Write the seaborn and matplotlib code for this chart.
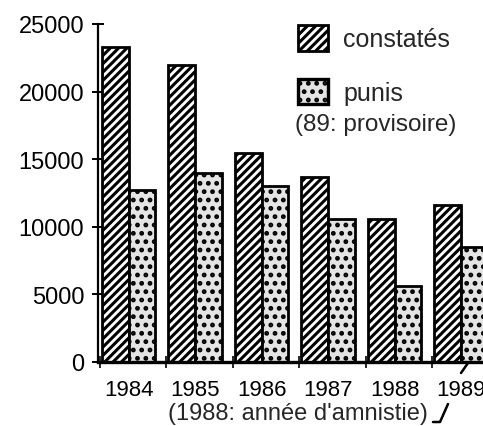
import matplotlib
matplotlib.use('Agg')
import matplotlib.pyplot as plt
import seaborn as sns
import pandas as pd
from matplotlib.patches import Patch
from matplotlib.lines import Line2D

# values
years = ['1984', '1985', '1986', '1987', '1988', '1989']
constates = [23300, 22000, 15450, 13700, 10600, 11600]
punis = [12750, 14000, 13000, 10600, 5600, 8500]
yticks = [0, 5000, 10000, 15000, 20000, 25000]

df = pd.DataFrame({'annee': years * 2,
                   'nombre': constates + punis,
                   'type': ['constatés'] * len(years) + ['punis'] * len(years)})

sns.set_style('ticks')
plt.rcParams['font.family'] = ['Liberation Sans', 'DejaVu Sans']
plt.rcParams['hatch.linewidth'] = 2.2

W, H = 483, 427
unit = 66.5  # pixels per year group
fig = plt.figure(figsize=(W / 100, H / 100), dpi=100)
# axes runs past the right edge, like the cropped scan
ax = fig.add_axes([98 / W, 64 / H, 6.06 * unit / W, 338 / H])

sns.barplot(data=df, x='annee', y='nombre', hue='type',
            hue_order=['constatés', 'punis'], palette=['white', 'white'],
            saturation=1, edgecolor='black', linewidth=2.0, width=0.8,
            legend=False, ax=ax)

for bar in ax.containers[0]:
    bar.set_hatch('////')
for bar in ax.containers[1]:
    bar.set_hatch('..')
    bar.set_facecolor('#e4e4e4')

ax.set_xlim(-0.46, 5.6)
ax.set_ylim(0, 25000)
ax.set_yticks(yticks)
ax.set_yticklabels([str(v) for v in yticks])
ax.set_xlabel('')
ax.set_ylabel('')

ax.set_xticks([k - 0.43 for k in range(len(years) + 1)], minor=True)
ax.tick_params(axis='x', which='major', length=0, pad=12, labelsize=16, colors='black')
ax.tick_params(axis='x', which='minor', direction='inout', length=8, width=1.4)
ax.tick_params(axis='y', direction='inout', length=8, width=1.4, pad=6,
               labelsize=17, colors='black')

sns.despine(ax=ax)
ax.spines['left'].set_linewidth(1.6)
ax.spines['bottom'].set_linewidth(2.4)
ax.spines['left'].set_color('black')
ax.spines['bottom'].set_color('black')

handles = [Patch(facecolor='white', edgecolor='black', hatch='////', linewidth=2.0),
           Patch(facecolor='#e4e4e4', edgecolor='black', hatch='..', linewidth=2.4)]
ax.legend(handles=handles, labels=['constatés', 'punis'], loc='upper left',
          bbox_to_anchor=(298 / W, 1 - 26 / H), bbox_transform=fig.transFigure,
          frameon=False, fontsize=18, handlelength=1.2, handleheight=1.2,
          handletextpad=0.6, labelspacing=1.1, borderpad=0, borderaxespad=0)
fig.text(295 / W, 1 - 125 / H, '(89: provisoire)', fontsize=17.5, ha='left', va='center')

# note under the axis with its leader line
fig.text(168 / W, 1 - 414 / H, "(1988: année d'amnistie)", fontsize=17,
         ha='left', va='center')
fig.add_artist(Line2D([433 / W, 440 / W, 448 / W], [1 - 423 / H, 1 - 423 / H, 1 - 405 / H],
                      transform=fig.transFigure, color='black', lw=1.8))
fig.add_artist(Line2D([461 / W, 468 / W], [1 - 374 / H, 1 - 364 / H],
                      transform=fig.transFigure, color='black', lw=1.8))

fig.savefig('out.png', dpi=100)
